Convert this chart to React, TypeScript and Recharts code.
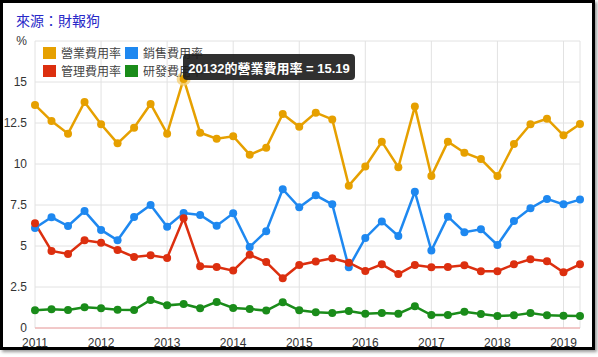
import { LineChart, Line, XAxis, YAxis, CartesianGrid, ReferenceLine } from "recharts";

const quarters = [
  "2011Q1", "2011Q2", "2011Q3", "2011Q4", "2012Q1", "2012Q2", "2012Q3", "2012Q4",
  "2013Q1", "2013Q2", "2013Q3", "2013Q4", "2014Q1", "2014Q2", "2014Q3", "2014Q4",
  "2015Q1", "2015Q2", "2015Q3", "2015Q4", "2016Q1", "2016Q2", "2016Q3", "2016Q4",
  "2017Q1", "2017Q2", "2017Q3", "2017Q4", "2018Q1", "2018Q2", "2018Q3", "2018Q4",
  "2019Q1", "2019Q2",
];

const operating = [
  13.6, 12.62, 11.85, 13.78, 12.42, 11.26, 12.21, 13.66, 11.85, 15.19, 11.91, 11.54,
  11.69, 10.57, 10.99, 13.05, 12.27, 13.13, 12.72, 8.68, 9.84, 11.36, 9.8, 13.5,
  9.27, 11.36, 10.69, 10.3, 9.27, 11.22, 12.42, 12.76, 11.75, 12.44,
];
const selling = [
  6.1, 6.75, 6.22, 7.13, 5.98, 5.35, 6.77, 7.5, 6.18, 7.01, 6.89, 6.24,
  6.99, 4.94, 5.9, 8.46, 7.36, 8.09, 7.54, 3.7, 5.49, 6.5, 5.61, 8.31,
  4.72, 6.79, 5.84, 6.02, 5.06, 6.52, 7.3, 7.87, 7.54, 7.83,
];
const admin = [
  6.38, 4.7, 4.51, 5.35, 5.2, 4.76, 4.33, 4.43, 4.27, 6.69, 3.76, 3.72,
  3.5, 4.47, 4.02, 3.03, 3.84, 4.05, 4.25, 3.98, 3.48, 3.88, 3.29, 3.84,
  3.7, 3.72, 3.82, 3.46, 3.46, 3.88, 4.19, 4.07, 3.4, 3.88,
];
const rnd = [
  1.08, 1.14, 1.1, 1.26, 1.2, 1.12, 1.1, 1.71, 1.38, 1.46, 1.2, 1.59,
  1.22, 1.16, 1.06, 1.57, 1.08, 0.96, 0.91, 1.04, 0.87, 0.91, 0.87, 1.32,
  0.79, 0.79, 0.99, 0.85, 0.73, 0.77, 0.91, 0.77, 0.75, 0.73,
];

const years = ["2011", "2012", "2013", "2014", "2015", "2016", "2017", "2018", "2019"];
const yTicks = [0, 2.5, 5, 7.5, 10, 12.5, 15, 17.5];

const series = [
  { key: "operating", name: "營業費用率", color: "#e6a000" },
  { key: "selling", name: "銷售費用率", color: "#1e88f0" },
  { key: "admin", name: "管理費用率", color: "#dc2f0f" },
  { key: "rnd", name: "研發費用率", color: "#1a8c1a" },
];

const data = quarters.map((q, i) => ({
  i,
  quarter: q,
  operating: operating[i],
  selling: selling[i],
  admin: admin[i],
  rnd: rnd[i],
}));

const font = "'Liberation Sans', 'Noto Sans CJK TC', sans-serif";
const activeIndex = 9;

const LegendBox = () => (
  <div
    style={{
      position: "absolute", left: 43, top: 45,
      display: "grid", gridTemplateColumns: "82px 90px", rowGap: 3,
      fontFamily: font, fontSize: 12, color: "#444", whiteSpace: "nowrap",
    }}
  >
    {series.map(s => (
      <div key={s.key} style={{ display: "flex", alignItems: "center", height: 15 }}>
        <span style={{ width: 13, height: 12, background: s.color, display: "inline-block", marginRight: 5 }} />
        <span>{s.name}</span>
      </div>
    ))}
  </div>
);

const OperatingDot = (props: any) => {
  const { cx, cy, index } = props;
  if (index === activeIndex) {
    return (
      <g key={`od-${index}`}>
        <circle cx={cx} cy={cy} r={7} fill="#f5d27a" opacity={0.8} />
        <circle cx={cx} cy={cy} r={4} fill="#e6a000" />
      </g>
    );
  }
  return <circle key={`od-${index}`} cx={cx} cy={cy} r={4} fill="#e6a000" />;
};

const App = () => {
  return (
    <div style={{ position: "absolute", left: 0, top: 0, width: 598, height: 357, background: "#fff" }}>
      <div
        style={{
          position: "absolute", left: 0, top: 0, width: 595, height: 350,
          border: "3px solid #000", boxSizing: "border-box", boxShadow: "2px 2px 3px #999",
        }}
      />
      <div style={{ position: "absolute", left: 16, top: 10, fontFamily: font, fontSize: 14, color: "#2828c8" }}>
        來源：財報狗
      </div>
      <div style={{ position: "absolute", left: 0, top: 0 }}>
        <LineChart width={598} height={357} data={data} margin={{ top: 41, right: 18, bottom: 9, left: 0 }}>
          <CartesianGrid stroke="#e2e2e2" strokeWidth={1} />
          <XAxis
            dataKey="i"
            type="number"
            domain={[0, 33]}
            ticks={[0, 4, 8, 12, 16, 20, 24, 28, 32]}
            tickFormatter={(v: number) => years[v / 4]}
            axisLine={false}
            tickLine={false}
            tickMargin={4}
            height={20}
            tick={{ fill: "#333", fontSize: 12, fontFamily: font }}
          />
          <YAxis
            type="number"
            domain={[0, 17.5]}
            ticks={yTicks}
            tickFormatter={(v: number) => (v === 17.5 ? "%" : String(v))}
            axisLine={false}
            tickLine={false}
            width={35}
            tick={{ fill: "#333", fontSize: 12, fontFamily: font }}
          />
          <ReferenceLine y={0} stroke="#f2a0a0" strokeWidth={1} />
          {series.map(s => (
            <Line
              key={s.key}
              type="linear"
              dataKey={s.key}
              name={s.name}
              stroke={s.color}
              strokeWidth={2.5}
              dot={s.key === "operating" ? OperatingDot : { r: 4, fill: s.color, stroke: s.color, strokeWidth: 0 }}
              activeDot={false}
              isAnimationActive={false}
            />
          ))}
        </LineChart>
      </div>
      <LegendBox />
      <div
        style={{
          position: "absolute", left: 183, top: 54, width: 172, height: 26,
          background: "rgba(30,30,30,0.92)", borderRadius: 4, color: "#fff",
          fontFamily: font, fontSize: 13, fontWeight: "bold",
          display: "flex", alignItems: "center", justifyContent: "center", boxSizing: "border-box",
        }}
      >
        {`${quarters[activeIndex].replace("Q", "")}的營業費用率 = ${operating[activeIndex]}`}
      </div>
    </div>
  );
};

export default App;
